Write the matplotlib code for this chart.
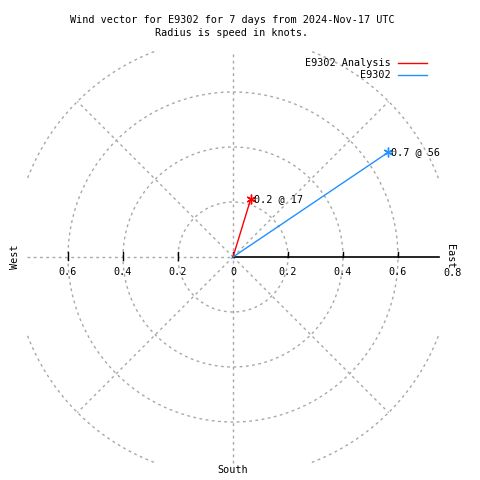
import numpy as np
import matplotlib
matplotlib.use('Agg')
import matplotlib.pyplot as plt

# wind vectors: speed (knots) and direction (deg, clockwise from north)
series = ['E9302 Analysis', 'E9302']
speeds = [0.22, 0.68]
directions = [17, 56]
point_labels = ['0.2 @ 17', '0.7 @ 56']
colors = ['#ff0000', '#1e90ff']

rings = [0.2, 0.4, 0.6]
outer_ring = 0.8
axis_len = 0.75
east_ticks = [0, 0.2, 0.4, 0.6]
west_ticks = [0.6, 0.4, 0.2]

scale = 275.0  # pixels per knot
cx, cy = 233, 257

plt.rcParams['font.family'] = 'DejaVu Sans Mono'
fs = 7.3
grid = dict(color='#a8a8a8', lw=1, ls=(0, (2, 2.5)))

fig = plt.figure(figsize=(4.8, 4.8), dpi=100)
ax = fig.add_axes([0, 0, 1, 1])
ax.set_xlim(-cx / scale, (480 - cx) / scale)
ax.set_ylim(-(480 - cy) / scale, cy / scale)
ax.set_aspect('equal')
ax.axis('off')

# rings
t = np.linspace(0, 2 * np.pi, 400)
for r in rings:
    ax.plot(r * np.cos(t), r * np.sin(t), **grid)
for q in [45, 135, 225, 315]:
    a = np.radians(np.linspace(q - 24, q + 24, 100))
    ax.plot(outer_ring * np.cos(a), outer_ring * np.sin(a), **grid)
    ax.plot([0, outer_ring * np.cos(np.radians(q))],
            [0, outer_ring * np.sin(np.radians(q))], **grid)

# axes lines
ax.plot([0, 0], [-axis_len, axis_len], **grid)
ax.plot([-axis_len, 0], [0, 0], **grid)
ax.plot([0, axis_len], [0, 0], color='black', lw=1.2)

tick = 5 / scale
for v in east_ticks:
    ax.plot([v, v], [0, tick], color='black', lw=1)
    ax.text(v, -15 / scale, '%g' % v, ha='center', va='center', fontsize=fs)
for v in west_ticks:
    ax.plot([-v, -v], [-tick / 2, tick], color='black', lw=1)
    ax.text(-v, -15 / scale, '%g' % v, ha='center', va='center', fontsize=fs)
ax.text(0.8, -16 / scale, '0.8', ha='center', va='center', fontsize=fs)

ax.text(-218 / scale, 0, 'West', rotation=90, ha='center', va='center', fontsize=fs)
ax.text(217 / scale, 1 / scale, 'East', rotation=-90, ha='center', va='center', fontsize=fs)
ax.text(0, -213 / scale, 'South', ha='center', va='center', fontsize=fs)

# vectors
for s, d, lab, c in zip(speeds, directions, point_labels, colors):
    x = s * np.sin(np.radians(d))
    y = s * np.cos(np.radians(d))
    ax.plot([0, x], [0, y], color=c, lw=1)
    ax.plot(x, y, marker=(6, 2, 0), color=c, ms=7, mew=1)
    ax.text(x + 3 / scale, y, lab, ha='left', va='center', fontsize=fs)

# legend
for i, (name, c) in enumerate(zip(series, colors)):
    yy = (cy - 63 - 12 * i) / scale
    ax.text((391 - cx) / scale, yy, name, ha='right', va='center', fontsize=fs)
    ax.plot([(398 - cx) / scale, (427 - cx) / scale], [yy, yy], color=c, lw=1)

fig.text(0.483, 1 - 20 / 480, 'Wind vector for E9302 for 7 days from 2024-Nov-17 UTC',
         ha='center', va='center', fontsize=fs)
fig.text(0.483, 1 - 33 / 480, 'Radius is speed in knots.', ha='center', va='center', fontsize=fs)

fig.savefig('out.png', dpi=100)
